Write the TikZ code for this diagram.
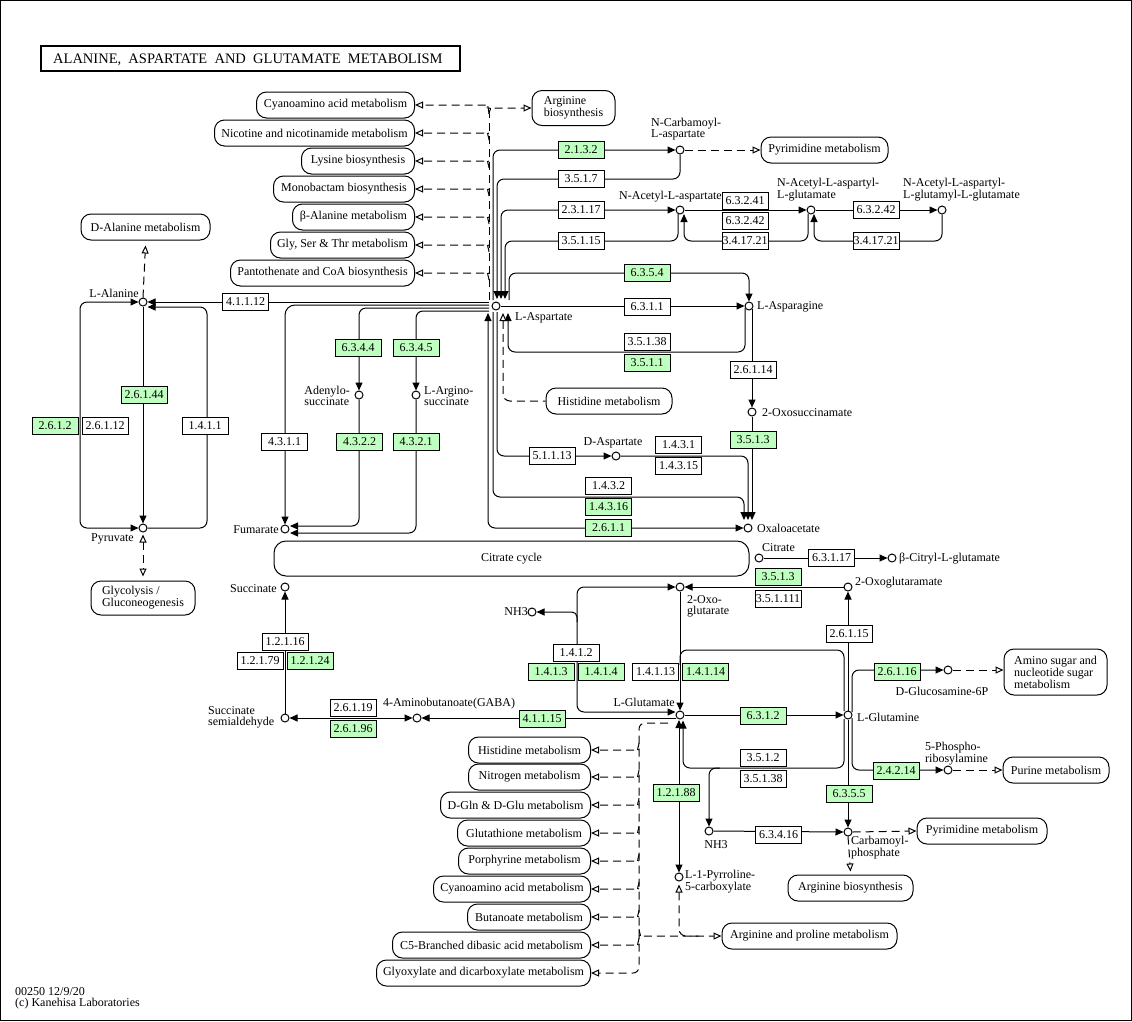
\documentclass[tikz,border=0pt]{standalone}
\usepackage{fontspec}
\setmainfont{Liberation Serif}
\usetikzlibrary{arrows.meta,calc}
\pgfdeclarelayer{paper}
\pgfdeclarelayer{bg}
\pgfsetlayers{paper,bg,main}
\definecolor{keggreen}{HTML}{BFFFBF}
\newcommand\kf{\fontsize{12}{10.8}\selectfont}
\tikzset{
  cpd/.style={circle,draw,fill=white,inner sep=0pt,minimum size=8pt,line width=1pt},
  ecbox/.style={draw,fill=white,minimum width=46pt,minimum height=17pt,inner sep=0pt,font=\kf,line width=1pt},
  ecgreen/.style={ecbox,fill=keggreen},
  mapbox/.style={draw,fill=white,rounded corners=10pt,minimum height=26pt,inner xsep=5pt,inner ysep=2pt,font=\kf,line width=1pt},
  lbl/.style={inner sep=0pt,font=\kf},
  rxn/.style={line width=1pt,rounded corners=7pt},
  dsh/.style={dash pattern=on 8pt off 5pt},
  arr/.style={-{Triangle[length=8pt,width=7pt]}},
  rarr/.style={{Triangle[length=8pt,width=7pt]}-},
  barr/.style={{Triangle[length=8pt,width=7pt]}-{Triangle[length=8pt,width=7pt]}},
  oarr/.style={-{Triangle[fill=white,length=8pt,width=7pt]}},
  roarr/.style={{Triangle[fill=white,length=8pt,width=7pt]}-},
  boarr/.style={{Triangle[fill=white,length=8pt,width=7pt]}-{Triangle[fill=white,length=8pt,width=7pt]}},
}
\begin{document}
\begin{tikzpicture}[x=1pt,y=-1pt]
\useasboundingbox (0,0) rectangle (1132,1021);
\begin{pgfonlayer}{paper}\fill[white] (0,0) rectangle (1132,1021);\end{pgfonlayer}
\draw[line width=1pt] (0.5,0.5) rectangle (1131.5,1020.5);
% title
\draw[line width=2pt] (41,46) rectangle (460,71);
\node[lbl,anchor=west,font=\fontsize{14.5}{15}\selectfont] (title) at (53,59.5) {ALANINE,\ \ ASPARTATE\ \ AND\ \ GLUTAMATE\ \ METABOLISM};

% compounds
\node[cpd] (ala) at (143,302) {};
\node[cpd] (pyr) at (143,528) {};
\node[cpd] (asp) at (496,306) {};
\node[cpd] (ncarb) at (680,150) {};
\node[cpd] (nacasp) at (680,210) {};
\node[cpd] (naag) at (811,210) {};
\node[cpd] (naagg) at (942,210) {};
\node[cpd] (asn) at (749,306) {};
\node[cpd] (oxosuc) at (752,412) {};
\node[cpd] (oaa) at (748,528) {};
\node[cpd] (dasp) at (616,456) {};
\node[cpd] (fum) at (285,529) {};
\node[cpd] (adsucc) at (359,395) {};
\node[cpd] (argsucc) at (416,395) {};
\node[cpd] (cit) at (759,558) {};
\node[cpd] (bcit) at (892,558) {};
\node[cpd] (succ) at (285,587) {};
\node[cpd] (ssa) at (285,718) {};
\node[cpd] (gaba) at (417,718) {};
\node[cpd] (glu) at (680,715) {};
\node[cpd] (akg) at (680,587) {};
\node[cpd] (nh3a) at (532,612) {};
\node[cpd] (akgm) at (848,587) {};
\node[cpd] (gln) at (848,715) {};
\node[cpd] (glcn) at (948,670) {};
\node[cpd] (pra) at (948,770) {};
\node[cpd] (cp) at (848,832) {};
\node[cpd] (nh3b) at (709,831) {};
\node[cpd] (p5c) at (679,877) {};

% map boxes
\node[mapbox,anchor=east,minimum width=158pt] (cyan1) at (415,105) {Cyanoamino acid metabolism};
\node[mapbox,anchor=east,minimum width=200pt] (nic) at (415,133) {Nicotine and nicotinamide metabolism};
\node[mapbox,anchor=east,minimum width=113pt] (lys) at (415,161) {Lysine biosynthesis};
\node[mapbox,anchor=east,minimum width=141pt] (mono) at (415,189) {Monobactam biosynthesis};
\node[mapbox,anchor=east,minimum width=122pt] (bala) at (415,217) {β-Alanine metabolism};
\node[mapbox,anchor=east,minimum width=144pt] (gly) at (415,245) {Gly, Ser \& Thr metabolism};
\node[mapbox,anchor=east,minimum width=184pt] (pant) at (415,273) {Pantothenate and CoA biosynthesis};
\node[mapbox,anchor=east,minimum width=122pt] (his2) at (591,750) {Histidine metabolism};
\node[mapbox,anchor=east,minimum width=122pt] (nitro) at (591,777) {Nitrogen metabolism};
\node[mapbox,anchor=east,minimum width=150pt] (dgln) at (591,805) {D-Gln \& D-Glu metabolism};
\node[mapbox,anchor=east,minimum width=133pt] (gsh) at (591,833) {Glutathione metabolism};
\node[mapbox,anchor=east,minimum width=132pt] (porph) at (591,861) {Porphyrine metabolism};
\node[mapbox,anchor=east,minimum width=157pt] (cyan2) at (591,889) {Cyanoamino acid metabolism};
\node[mapbox,anchor=east,minimum width=123pt] (buta) at (591,917) {Butanoate metabolism};
\node[mapbox,anchor=east,minimum width=198pt] (c5) at (591,945) {C5-Branched dibasic acid metabolism};
\node[mapbox,anchor=east,minimum width=214pt] (glyox) at (591,973) {Glyoxylate and dicarboxylate metabolism};
\node[mapbox,minimum width=83pt,minimum height=35pt,align=left] (argb1) at (573.5,108) {Arginine\\biosynthesis};
\node[mapbox,minimum width=127pt] (pyrim1) at (824.5,150) {Pyrimidine metabolism};
\node[mapbox,minimum width=129pt] (dala) at (145.5,227) {D-Alanine metabolism};
\node[mapbox,minimum width=126pt] (his1) at (609,401) {Histidine metabolism};
\node[mapbox,minimum width=104pt,minimum height=34pt,align=left] (glyc) at (143,598) {Glycolysis /\\Gluconeogenesis};
\node[mapbox,minimum width=103pt,minimum height=46pt,align=left] (amino) at (1055.5,672) {Amino sugar and\\nucleotide sugar\\metabolism};
\node[mapbox,minimum width=106pt] (purine) at (1056,770) {Purine metabolism};
\node[mapbox,minimum width=130pt] (pyrim2) at (982,831) {Pyrimidine metabolism};
\node[mapbox,minimum width=125pt] (argb2) at (850.5,888) {Arginine biosynthesis};
\node[mapbox,minimum width=175pt] (argpro) at (809.5,936) {Arginine and proline metabolism};
\node[mapbox,minimum width=475pt,minimum height=35pt,rounded corners=12pt] (citcyc) at (511.5,558.5) {Citrate cycle};

% enzyme boxes
\node[ecgreen] (e1) at (581,150) {2.1.3.2};
\node[ecbox] (e2) at (581,179) {3.5.1.7};
\node[ecbox] (e3) at (581,210) {2.3.1.17};
\node[ecbox] (e4) at (581,241) {3.5.1.15};
\node[ecbox] (e5) at (745,201) {6.3.2.41};
\node[ecbox] (e6) at (745,220.5) {6.3.2.42};
\node[ecbox] (e7) at (745,241) {3.4.17.21};
\node[ecbox] (e8) at (876,210) {6.3.2.42};
\node[ecbox] (e9) at (876,241) {3.4.17.21};
\node[ecgreen] (e10) at (647,273) {6.3.5.4};
\node[ecbox] (e11) at (647,306.5) {6.3.1.1};
\node[ecbox] (e12) at (647,341.5) {3.5.1.38};
\node[ecgreen] (e13) at (647,362.5) {3.5.1.1};
\node[ecbox] (e14) at (753,370) {2.6.1.14};
\node[ecgreen] (e15) at (753,440) {3.5.1.3};
\node[ecbox] (e16) at (678.5,445) {1.4.3.1};
\node[ecbox] (e17) at (678.5,466) {1.4.3.15};
\node[ecbox] (e18) at (552,456) {5.1.1.13};
\node[ecbox] (e19) at (608.5,486) {1.4.3.2};
\node[ecgreen] (e20) at (608.5,506.5) {1.4.3.16};
\node[ecgreen] (e21) at (608.5,528) {2.6.1.1};
\node[ecbox] (e22) at (245.5,302) {4.1.1.12};
\node[ecgreen] (e23) at (144,395) {2.6.1.44};
\node[ecgreen] (e24) at (55,426) {2.6.1.2};
\node[ecbox] (e25) at (105,426) {2.6.1.12};
\node[ecbox] (e26) at (205,426) {1.4.1.1};
\node[ecbox] (e27) at (284.5,442) {4.3.1.1};
\node[ecgreen] (e28) at (358,348) {6.3.4.4};
\node[ecgreen] (e29) at (359.5,442) {4.3.2.2};
\node[ecgreen] (e30) at (416,348) {6.3.4.5};
\node[ecgreen] (e31) at (416,442) {4.3.2.1};
\node[ecbox] (e32) at (831.5,558) {6.3.1.17};
\node[ecgreen] (e33) at (778,576.5) {3.5.1.3};
\node[ecbox] (e34) at (778,598.5) {3.5.1.111};
\node[ecbox] (e35) at (849,633.5) {2.6.1.15};
\node[ecbox] (e36) at (285,642) {1.2.1.16};
\node[ecbox] (e37) at (260,660.5) {1.2.1.79};
\node[ecgreen] (e38) at (310,660.5) {1.2.1.24};
\node[ecbox] (e39) at (353,707.5) {2.6.1.19};
\node[ecgreen] (e40) at (353,729) {2.6.1.96};
\node[ecgreen] (e41) at (542,718.5) {4.1.1.15};
\node[ecbox] (e42) at (576,652.5) {1.4.1.2};
\node[ecgreen] (e43) at (551,671.5) {1.4.1.3};
\node[ecgreen] (e44) at (601,671.5) {1.4.1.4};
\node[ecbox] (e45) at (655.5,671.5) {1.4.1.13};
\node[ecgreen] (e46) at (705.5,671.5) {1.4.1.14};
\node[ecgreen] (e47) at (763,715.5) {6.3.1.2};
\node[ecgreen] (e48) at (897,671.5) {2.6.1.16};
\node[ecgreen] (e49) at (896,770.5) {2.4.2.14};
\node[ecbox] (e50) at (763,757.5) {3.5.1.2};
\node[ecbox] (e51) at (763,779) {3.5.1.38};
\node[ecgreen] (e52) at (849,794) {6.3.5.5};
\node[ecbox] (e53) at (778.5,834.5) {6.3.4.16};
\node[ecgreen] (e54) at (676,793) {1.2.1.88};

% labels
\node[lbl,anchor=east] (lala) at (139,293) {L-Alanine};
\node[lbl,anchor=east] (lpyr) at (134,539) {Pyruvate};
\node[lbl,anchor=west] (lasp) at (515,318) {L-Aspartate};
\node[lbl,anchor=west,align=left] (lncarb) at (651,129) {N-Carbamoyl-\\L-aspartate};
\node[lbl,anchor=east] (lnacasp) at (722,197) {N-Acetyl-L-aspartate};
\node[lbl,anchor=west,align=left] (lnaag) at (777,190) {N-Acetyl-L-aspartyl-\\L-glutamate};
\node[lbl,anchor=west,align=left] (lnaagg) at (903,190) {N-Acetyl-L-aspartyl-\\L-glutamyl-L-glutamate};
\node[lbl,anchor=west] (lasn) at (757,307) {L-Asparagine};
\node[lbl,anchor=west] (loxosuc) at (762,413) {2-Oxosuccinamate};
\node[lbl,anchor=west] (loaa) at (757,528) {Oxaloacetate};
\node[lbl] (ldasp) at (613,443) {D-Aspartate};
\node[lbl,anchor=east] (lfum) at (279,530) {Fumarate};
\node[lbl,anchor=east,align=left] (ladsucc) at (350,396) {Adenylo-\\succinate};
\node[lbl,anchor=west,align=left] (largsucc) at (424,396) {L-Argino-\\succinate};
\node[lbl,anchor=west] (lcit) at (762,548) {Citrate};
\node[lbl,anchor=west] (lbcit) at (899,559) {β-Citryl-L-glutamate};
\node[lbl,anchor=east] (lsucc) at (277,589) {Succinate};
\node[lbl,anchor=west,align=left] (lssa) at (208,717) {Succinate\\semialdehyde};
\node[lbl] (lgaba) at (449,704) {4-Aminobutanoate(GABA)};
\node[lbl,anchor=east] (lglu) at (675,702) {L-Glutamate};
\node[lbl,anchor=west,align=left] (lakg) at (687,606) {2-Oxo-\\glutarate};
\node[lbl,anchor=east] (lnh3a) at (528,612) {NH3};
\node[lbl,anchor=west] (lakgm) at (855,583) {2-Oxoglutaramate};
\node[lbl,anchor=west] (lgln) at (857,717) {L-Glutamine};
\node[lbl] (lglcn) at (942,691) {D-Glucosamine-6P};
\node[lbl,anchor=west,align=left] (lpra) at (925,754) {5-Phospho-\\ribosylamine};
\node[lbl,anchor=west,align=left] (lcp) at (851,848) {Carbamoyl-\\phosphate};
\node[lbl] (lnh3b) at (716,845) {NH3};
\node[lbl,anchor=west,align=left] (lp5c) at (685,882) {L-1-Pyrroline-\\5-carboxylate};
\node[lbl,anchor=west,align=left] (foot) at (15,998) {00250 12/9/20\\(c) Kanehisa Laboratories};

\begin{pgfonlayer}{bg}
% alanine / pyruvate
\draw[rxn,barr] (ala.west) -- (80,302) -- (80,528) -- (pyr.west);
\draw[rxn,arr] (ala.south) -- (pyr.north);
\draw[rxn,arr] (pyr.east) -- (207,528) -- (207,307) -- (147.5,307);
\draw[rxn,arr] (489,302) -- (ala.east);
\draw[rxn,dsh,oarr] (ala.north) -- ([yshift=-5pt]dala.south);
\draw[rxn,dsh,boarr] ([yshift=-2pt]pyr.south) -- ([yshift=4pt]glyc.north);
% aspartate to the left
\draw[rxn,arr,rounded corners=10pt] (489,305) -- (285,305) -- (fum.north);
\draw[rxn,arr] (489,308) -- (359,308) -- (adsucc.north);
\draw[rxn,arr] (489,311) -- (416,311) -- (argsucc.north);
\draw[rxn,arr] (adsucc.south) -- (359,526) -- (290,526);
\draw[rxn,arr] (argsucc.south) -- (416,533) -- (290,533);
% aspartate upward
\draw[rxn,arr] (493,300) -- (493,150) -- (ncarb.west);
\draw[rxn,arr] (ncarb.south) -- (680,179) -- (497,179) -- (497,299);
\draw[rxn,barr] (501,299) -- (501,210) -- (nacasp.west);
\draw[rxn,arr] (678,214) -- (678,241) -- (505,241) -- (505,299);
\draw[rxn,arr] (nacasp.east) -- (naag.west);
\draw[rxn,arr] (808,214) -- (808,241) -- (684,241) -- (684,214);
\draw[rxn,arr] (naag.east) -- (naagg.west);
\draw[rxn,arr] (naagg.south) -- (942,241) -- (814,241) -- (814,214);
\draw[rxn,dsh,oarr] (ncarb.east) -- (pyrim1.west);
\draw[rxn,arr] (509,300) -- (509,273) -- (749,273) -- (asn.north);
% asparagine
\draw[rxn,arr] (asp.east) -- (asn.west);
\draw[rxn,arr] (745,308) -- (745,352) -- (508,352) -- (508,313);
\draw[rxn,arr] (752,309) -- (oxosuc.north);
\draw[rxn,arr] (oxosuc.south) -- (752,520);
% aspartate downward
\draw[rxn,arr] (dasp.east) -- (748,456) -- (748,520);
\draw[rxn,arr] (493,312) -- (493,497) -- (744,497) -- (744,520);
\draw[rxn,barr] (488,313) -- (488,528) -- (oaa.west);
\draw[rxn,arr] (497,312) -- (497,456) -- (dasp.west);
\draw[rxn,dsh,roarr] (503,313) -- (503,401) -- (his1.west);
% upper left map links: trunk and branches
\draw[rxn,dsh] (489,300) -- (489,114);
\draw[rxn,dsh,oarr] (489,114) to[out=90,in=0] (482,105) -- (cyan1.east);
\draw[rxn,dsh,oarr] (489,114) to[out=90,in=180] (496,108) -- (argb1.west);
\foreach \m/\yy in {nic/133,lys/161,mono/189,bala/217,gly/245,pant/273}
  \draw[rxn,dsh,oarr] (489,\yy+7) to[out=90,in=0] (482,\yy) -- (\m.east);
% citrate
\draw[rxn,arr] (cit.east) -- (bcit.west);
% succinate / GABA
\draw[rxn,arr] (ssa.north) -- (succ.south);
\draw[rxn,barr] (gaba.west) -- (ssa.east);
\draw[rxn,arr] (676,718) -- (gaba.east);
% glutamate
\draw[rxn,barr] (akg.west) -- (577,587) -- (577,712) -- (675.5,712);
\draw[rxn,arr,rounded corners=5pt] (577,622) -- (577,612) -- (nh3a.east);
\draw[rxn,arr] (akg.south) -- (glu.north);
\draw[rxn] (844,711) -- (844,650) -- (680,650) -- (680,665);
\draw[rxn,arr] (glu.east) -- (gln.west);
\draw[rxn,arr] (gln.north) -- (akgm.south);
\draw[rxn,arr] (akgm.west) -- (akg.east);
\draw[rxn,arr] (852,712) -- (852,670) -- (glcn.west);
\draw[rxn,arr] (852,718) -- (852,770) -- (pra.west);
\draw[rxn,arr] (gln.south) -- (cp.north);
\draw[rxn,arr] (844,719) -- (844,768) -- (683,768) -- (683,720.5);
\draw[rxn,arr] (720,768) -- (709,768) -- (nh3b.north);
\draw[rxn,arr] (nh3b.east) -- (cp.west);
\draw[rxn,barr] (679,720) -- (p5c.north);
% dashed links right
\draw[rxn,dsh,oarr] (glcn.east) -- (glcn.east -| amino.west);
\draw[rxn,dsh,oarr] (pra.east) -- (purine.west);
\draw[rxn,dsh,oarr] (cp.east) -- (pyrim2.west);
\draw[rxn,dsh,oarr] (cp.south) -- ([yshift=3pt]argb2.north);
\draw[rxn,dsh,roarr] ([yshift=-3pt]p5c.south) -- (679,936) -- (700,936);
% lower left map links: trunk and branches
\draw[rxn,dsh,oarr,rounded corners=6pt] (668,723) -- (639,723) -- (639,973) -- (glyox.east);
\foreach \m/\yy in {his2/750,nitro/777,dgln/805,gsh/833,porph/861,cyan2/889,buta/917,c5/945}
  \draw[rxn,dsh,oarr] (639,\yy-7) to[out=-90,in=0] (632,\yy) -- (\m.east);
\draw[rxn,dsh,oarr] (639,929) to[out=-90,in=180] (646,936) -- (argpro.west);
\end{pgfonlayer}
\end{tikzpicture}
\end{document}
